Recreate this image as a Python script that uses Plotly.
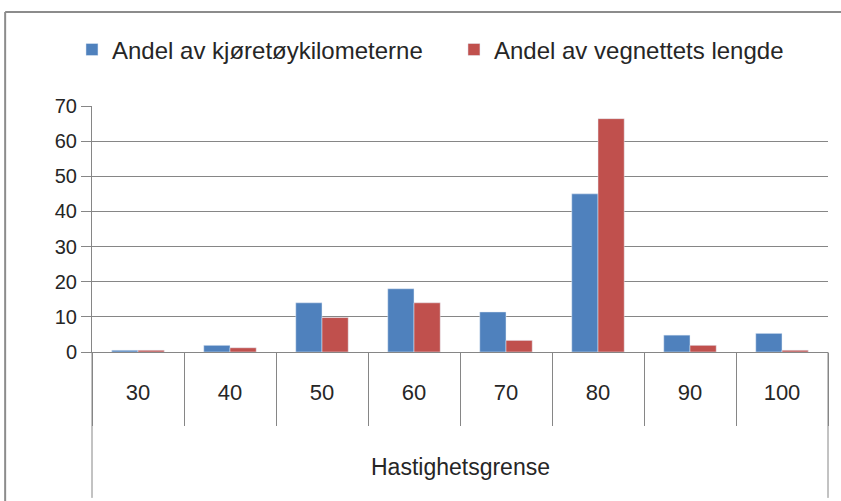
import plotly.graph_objects as go

speed_limits = ["30", "40", "50", "60", "70", "80", "90", "100"]
vehicle_km_share = [0.5, 1.9, 14.0, 18.0, 11.4, 45.0, 4.8, 5.3]
road_length_share = [0.5, 1.2, 9.8, 14.0, 3.3, 66.4, 1.9, 0.5]

FONT = "Liberation Sans, Arial, sans-serif"
GRID = "#868686"

fig = go.Figure()
fig.add_trace(go.Bar(x=speed_limits, y=vehicle_km_share, name="Andel av kjøretøykilometerne",
                     marker_color="#4F81BD", legend="legend"))
fig.add_trace(go.Bar(x=speed_limits, y=road_length_share, name="Andel av vegnettets lengde",
                     marker_color="#C0504D", legend="legend2"))

leg = dict(orientation="h", xanchor="left", y=1.228, yanchor="middle",
           font=dict(size=24), itemwidth=30)
fig.update_layout(
    width=841, height=501,
    margin=dict(l=92, r=13, t=106, b=149),
    paper_bgcolor="white", plot_bgcolor="white",
    font=dict(family=FONT, color="#262626", size=20),
    barmode="group", bargap=0.43, bargroupgap=0,
    showlegend=True,
    legend=dict(leg, x=-0.0272),
    legend2=dict(leg, x=0.4918),
)
fig.update_yaxes(range=[0, 70], dtick=10, showgrid=True, gridcolor=GRID, gridwidth=1,
                 showline=True, linecolor=GRID, ticks="outside", ticklen=10, tickcolor=GRID,
                 tickfont=dict(size=20), zeroline=False)
fig.update_xaxes(type="category", showline=True, linecolor=GRID, ticks="outside", ticklen=73,
                 tickcolor=GRID, tickson="boundaries", ticklabelstandoff=21,
                 tickfont=dict(size=22))

# outer category edges run down past the axis title
for xe in (0, 1):
    fig.add_shape(type="line", xref="paper", yref="paper", x0=xe, x1=xe, y0=0, y1=-0.593,
                  line=dict(color=GRID, width=1))
# chart frame (top and left edges only are visible)
fig.add_shape(type="line", xref="paper", yref="paper", x0=-0.118, x1=1.05, y0=1.382, y1=1.382,
              line=dict(color="#8c8c8c", width=2))
fig.add_shape(type="line", xref="paper", yref="paper", x0=-0.118, x1=-0.118, y0=-0.7, y1=1.382,
              line=dict(color="#8c8c8c", width=2))
fig.add_annotation(text="Hastighetsgrense", xref="paper", yref="paper", x=0.5, y=-0.467,
                   yanchor="middle", showarrow=False, font=dict(size=23))

fig.write_html("out.html", config={"displayModeBar": False},
               post_script="document.body.style.margin='0';")
